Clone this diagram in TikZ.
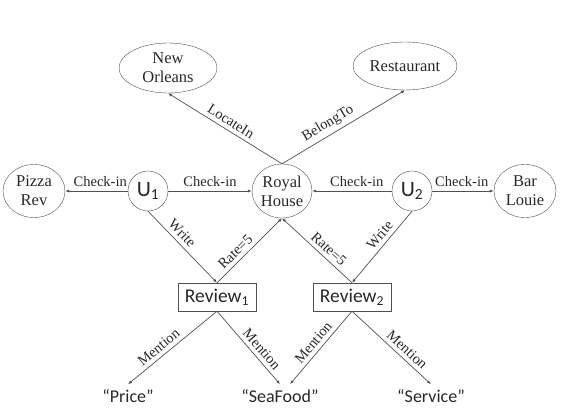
\documentclass[tikz,border=0pt]{standalone}
\usepackage{fontspec}
\setmainfont{Liberation Serif}
\newfontfamily\calfont{Carlito}
\definecolor{edgegray}{RGB}{80,80,80}
\definecolor{inkgray}{RGB}{40,40,40}
\usetikzlibrary{arrows.meta,positioning,shapes.geometric}

\begin{document}
\begin{tikzpicture}[x=1pt, y=-1pt,
    ent/.style={draw=edgegray, ellipse, inner sep=0pt, align=center, text=inkgray,
                font=\fontsize{16.5}{19}\selectfont},
    usr/.style={draw=edgegray, circle, minimum size=40pt, inner sep=0pt, text=inkgray,
                font=\calfont\fontsize{22}{24}\selectfont},
    revbox/.style={draw=edgegray, rectangle, minimum width=78pt, minimum height=28pt,
                inner sep=0pt, text=inkgray, font=\calfont\fontsize{19.5}{22}\selectfont},
    word/.style={text=inkgray, inner sep=5pt, font=\calfont\fontsize{18}{20}\selectfont},
    rel/.style={draw=edgegray, line width=0.7pt, -{Latex[length=4pt,width=3pt]}},
    lbl/.style={above, sloped, text=inkgray, inner sep=4pt, font=\fontsize{14.5}{16}\selectfont}]
  \useasboundingbox (0,0) rectangle (562,419);

  \node[ent, minimum width=98pt, minimum height=50pt] (neworl) at (168,68) {New\\Orleans};
  \node[ent, minimum width=104pt, minimum height=48pt] (resto) at (405,66) {Restaurant};
  \node[ent, minimum width=62pt, minimum height=53pt] (pizza) at (34,191) {Pizza\\Rev};
  \node[ent, minimum width=60pt, minimum height=54pt] (royal) at (282,191) {Royal\\House};
  \node[ent, minimum width=62pt, minimum height=53pt] (bar) at (525,191) {Bar\\Louie};
  \node[usr] (u1) at (148,191) {U\textsubscript{1}};
  \node[usr] (u2) at (412,191) {U\textsubscript{2}};
  \node[revbox] (rev1) at (217,297) {Review\textsubscript{1}};
  \node[revbox] (rev2) at (352,297) {Review\textsubscript{2}};
  \node[word] (price) at (128,396) {“Price”};
  \node[word] (sea) at (280,396) {“SeaFood”};
  \node[word] (serv) at (431,396) {“Service”};

  \draw[rel] (royal.north) -- node[lbl, pos=0.49] {LocateIn} (neworl.south);
  \draw[rel] (royal.north) -- node[lbl, pos=0.42] {BelongTo} (resto.south);
  \draw[rel] (u1) -- node[lbl, pos=0.44] {Check-in} (pizza);
  \draw[rel] (u1) -- node[lbl] {Check-in} (royal);
  \draw[rel] (u2) -- node[lbl, pos=0.44] {Check-in} (royal);
  \draw[rel] (u2) -- node[lbl, pos=0.48] {Check-in} (bar);
  \draw[rel] (u1.south) -- node[lbl, pos=0.4] {Write} (rev1.north);
  \draw[rel] (rev1.north) -- node[lbl, pos=0.38] {Rate=5} (royal.south);
  \draw[rel] (rev2.north) -- node[lbl, pos=0.42] {Rate=5} (royal.south);
  \draw[rel] (u2.south) -- node[lbl, pos=0.42] {Write} (rev2.north);
  \draw[rel] (rev1.south) -- node[lbl, pos=0.59] {Mention} (price.north);
  \draw[rel] (rev1.south) -- node[lbl, pos=0.6] {Mention} (sea.north);
  \draw[rel] (rev2.south) -- node[lbl, pos=0.51] {Mention} (sea);
  \draw[rel] (rev2.south) -- node[lbl, pos=0.62] {Mention} (serv.north);
\end{tikzpicture}
\end{document}
